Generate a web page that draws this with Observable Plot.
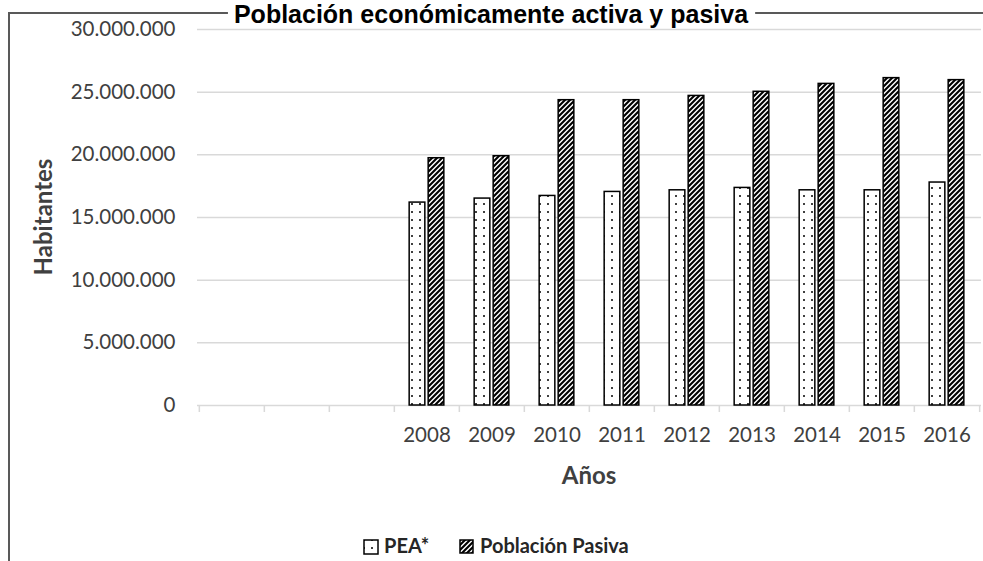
<!DOCTYPE html>
<html>
<head>
<meta charset="utf-8">
<script src="https://cdn.jsdelivr.net/npm/d3@7"></script>
<script src="https://cdn.jsdelivr.net/npm/@observablehq/plot@0.6"></script>
<style>
  html, body { margin: 0; padding: 0; background: #fff; }
  #wrap { position: relative; width: 983px; height: 561px; overflow: hidden; background: #fff; }
  #chart { position: absolute; left: 0; top: 0; }
  #annot { position: absolute; left: 0; top: 0; pointer-events: none; }
</style>
</head>
<body>
<div id="wrap">
  <div id="chart"></div>
  <svg id="annot" width="983" height="561" xmlns="http://www.w3.org/2000/svg">
    <defs>
      <pattern id="dots" patternUnits="userSpaceOnUse" width="8" height="8">
        <rect width="8" height="8" fill="#fff"></rect>
        <circle cx="4" cy="4" r="1" fill="#000"></circle>
      </pattern>
      <pattern id="hatch" patternUnits="userSpaceOnUse" width="5" height="5">
        <rect width="5" height="5" fill="#fff"></rect>
        <path d="M-1,1 l2,-2 M0,5 l5,-5 M4,6 l2,-2" stroke="#000" stroke-width="2.1"></path>
      </pattern>
    </defs>
    <path d="M9,561 V13 H983" fill="none" stroke="#595959" stroke-width="2"></path>
    <rect id="titlebg" fill="#fff"></rect>
    <text id="title" x="491" y="23" text-anchor="middle" font-family="Liberation Sans, Arial, sans-serif" font-weight="bold" font-size="25" fill="#000">Población económicamente activa y pasiva</text>
    <text id="ylab" transform="translate(52,217) rotate(-90)" text-anchor="middle" font-family="Lato, sans-serif" font-weight="bold" font-size="24" fill="#404040">Habitantes</text>
    <text id="xlab" x="589" y="484" text-anchor="middle" font-family="Lato, sans-serif" font-weight="bold" font-size="24" fill="#404040">Años</text>
    <g id="legend" font-family="Lato, sans-serif" font-weight="bold" font-size="20" fill="#262626">
      <rect x="364" y="540" width="14" height="14" fill="url(#dots)" stroke="#000" stroke-width="1.5"></rect>
      <text x="384" y="553">PEA*</text>
      <rect x="460" y="540" width="13" height="13" fill="url(#hatch)" stroke="#000" stroke-width="1.5"></rect>
      <text x="480" y="553">Población Pasiva</text>
    </g>
  </svg>
</div>
<script>
// ---- Data ----
const leadingBlankCategories = ["blank1", "blank2", "blank3"];
const years = ["2008", "2009", "2010", "2011", "2012", "2013", "2014", "2015", "2016"];
const pea = [16190000, 16510000, 16720000, 17040000, 17170000, 17360000, 17170000, 17170000, 17790000];
const pasiva = [19730000, 19890000, 24360000, 24360000, 24700000, 25030000, 25660000, 26120000, 25960000];
const yTicks = [0, 5000000, 10000000, 15000000, 20000000, 25000000, 30000000];

const rows = years.map((year, i) => ({ year, pea: pea[i], pasiva: pasiva[i] }));
const xDomain = [...leadingBlankCategories, ...years];

const W = 983, H = 561;
const mL = 197, mR = 2, mT = 29, mB = 156;
const step = (W - mL - mR) / xDomain.length;
const half = step / 2;

const locale = d3.formatLocale({ decimal: ",", thousands: ".", grouping: [3], currency: ["", ""] });
const fmt = locale.format(",");

const chart = Plot.plot({
  width: W,
  height: H,
  marginLeft: mL,
  marginRight: mR,
  marginTop: mT,
  marginBottom: mB,
  style: { fontFamily: "Lato, sans-serif", fontSize: "20.5px", color: "#404040", background: "transparent", overflow: "visible" },
  x: { domain: xDomain, padding: 0 },
  y: { domain: [0, 30000000] },
  marks: [
    Plot.gridY(yTicks, { stroke: "#d9d9d9", strokeOpacity: 1, strokeWidth: 1.5 }),
    Plot.axisY(yTicks, { tickSize: 0, tickPadding: 22, tickFormat: fmt, label: null, fill: "#404040" }),
    Plot.axisX({ tickSize: 7, tickFormat: () => "", dx: -half, stroke: "#d9d9d9", strokeWidth: 1.5, strokeOpacity: 1, label: null }),
    Plot.axisX([years[years.length - 1]], { tickSize: 7, tickFormat: () => "", dx: half, stroke: "#d9d9d9", strokeWidth: 1.5, strokeOpacity: 1, label: null }),
    Plot.axisX({ tickSize: 0, tickPadding: 22, tickFormat: d => (years.includes(d) ? d : ""), label: null, fill: "#404040" }),
    Plot.barY(rows, { x: "year", y: "pea", fill: "url(#dots)", stroke: "#000", strokeWidth: 1.5, insetLeft: half - 17.5, insetRight: half + 1.5 }),
    Plot.barY(rows, { x: "year", y: "pasiva", fill: "url(#hatch)", stroke: "#000", strokeWidth: 1.5, insetLeft: half + 1.5, insetRight: half - 17.5 })
  ]
});
document.getElementById("chart").appendChild(chart);

// white backing behind the title so the frame line does not cross it
const tb = document.getElementById("title").getBBox();
const bg = document.getElementById("titlebg");
bg.setAttribute("x", tb.x - 6);
bg.setAttribute("y", 8);
bg.setAttribute("width", tb.width + 12);
bg.setAttribute("height", 10);
</script>
</body>
</html>
